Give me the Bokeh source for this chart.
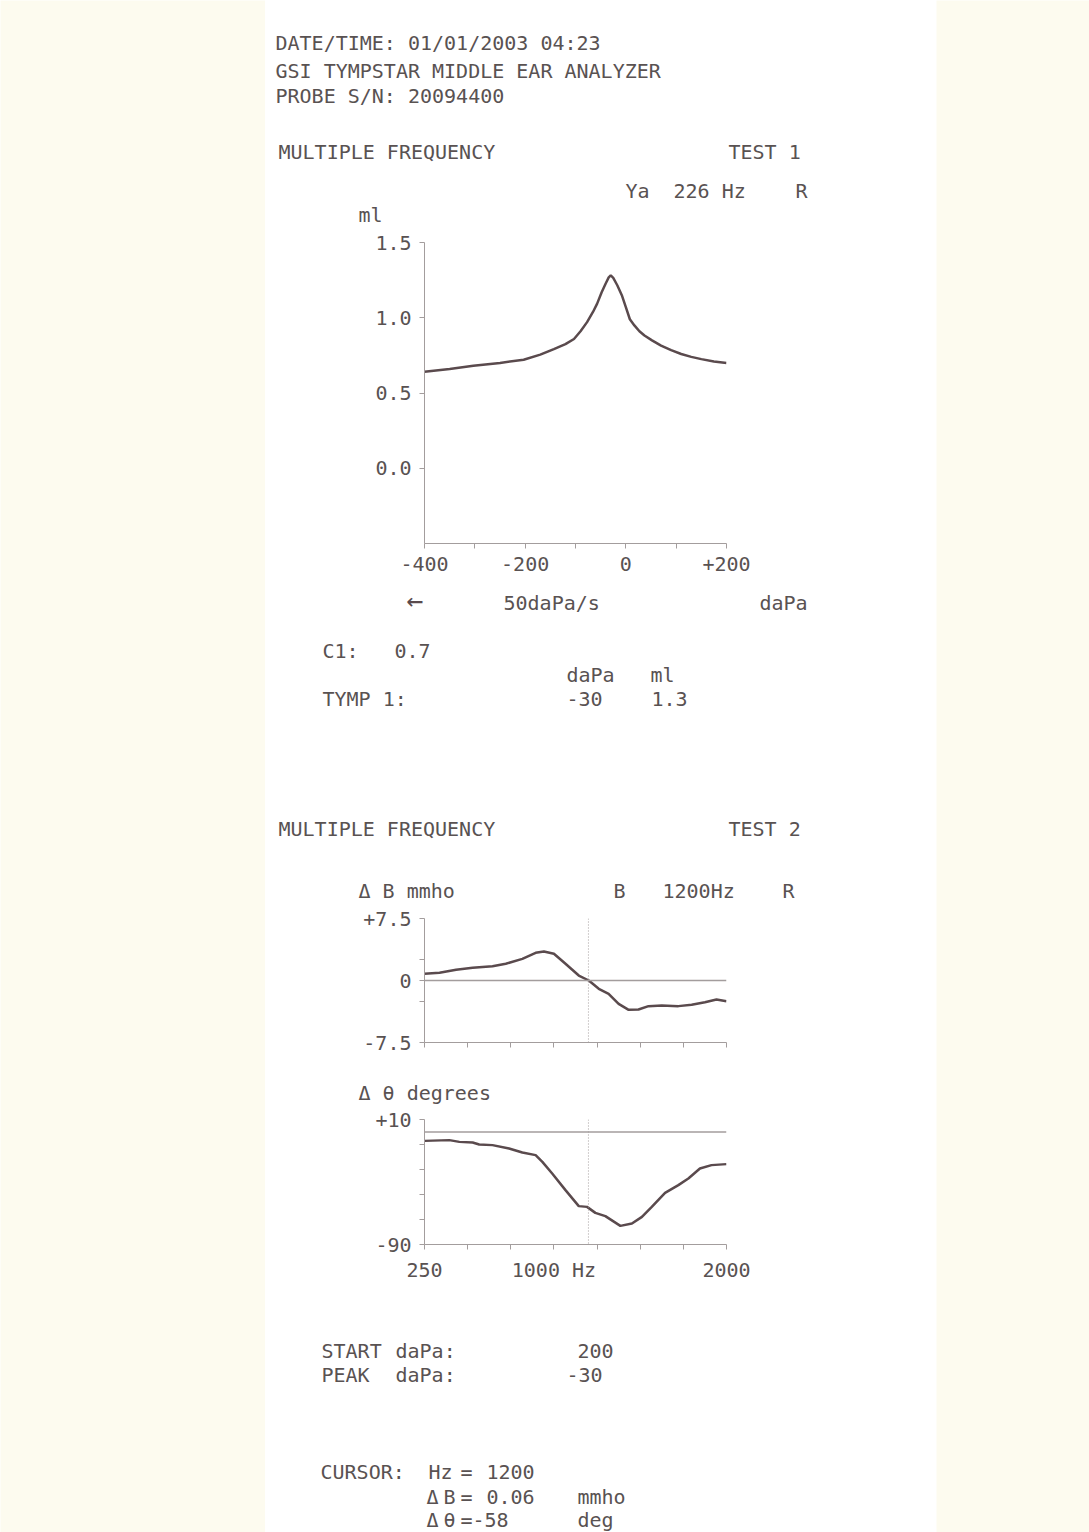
from bokeh.plotting import figure
from bokeh.layouts import row, column
from bokeh.models import Range1d, Span, FixedTicker
from bokeh.embed import file_html
from bokeh.resources import INLINE
from bokeh.core.properties import value

FONT = "DejaVu Sans Mono"
TXT = "#595252"
LINE = "#5a4a4d"
AX = "#a39d9d"
CREAM = "#fdfbef"

# ---------------- data ----------------
tymp_pressure = [-400, -350, -303, -250, -203, -170, -143, -120, -103, -90, -77, -65,
                 -57, -48, -40, -34, -30, -25, -17, -8, 0, 8, 17, 27, 37, 52, 70, 90,
                 110, 130, 150, 175, 200]
tymp_ml = [0.641, 0.660, 0.681, 0.700, 0.721, 0.755, 0.792, 0.825, 0.859, 0.910, 0.971,
           1.040, 1.094, 1.170, 1.228, 1.268, 1.281, 1.265, 1.216, 1.150, 1.071, 0.990,
           0.949, 0.910, 0.882, 0.850, 0.815, 0.785, 0.759, 0.740, 0.725, 0.710, 0.699]

freq_b = [250, 337, 433, 529, 644, 721, 817, 894, 942, 1000, 1067, 1144, 1202, 1260,
          1317, 1375, 1433, 1490, 1548, 1625, 1721, 1798, 1875, 1942, 2000]
delta_b = [0.81, 0.93, 1.29, 1.53, 1.73, 2.02, 2.62, 3.35, 3.51, 3.23, 2.02, 0.60, 0.0,
           -1.0, -1.61, -2.82, -3.55, -3.51, -3.10, -3.02, -3.10, -2.94, -2.62, -2.30, -2.50]

freq_t = [250, 394, 452, 529, 567, 644, 740, 817, 894, 933, 990, 1067, 1144, 1192, 1240,
          1298, 1385, 1452, 1510, 1567, 1644, 1721, 1779, 1846, 1913, 2000]
delta_theta = [-7.1, -6.5, -7.9, -8.4, -10.0, -10.5, -13.2, -16.4, -18.5, -23.9, -33.2,
               -46.5, -59.3, -59.9, -64.7, -67.3, -75.1, -73.2, -67.9, -59.9, -48.7,
               -42.5, -37.2, -29.2, -26.5, -25.7]

tymp_xticks = [-400, -300, -200, -100, 0, 100, 200]
tymp_xlabels = {-400: "-400", -300: "", -200: "-200", -100: "", 0: "0", 100: "", 200: "+200"}
tymp_yticks = [0.0, 0.5, 1.0, 1.5]
tymp_ylabels = {0.0: "0.0", 0.5: "0.5", 1.0: "1.0", 1.5: "1.5"}
freq_ticks = [250, 500, 750, 1000, 1250, 1500, 1750, 2000]
freq_labels = {250: "250", 500: "", 750: "", 1000: "1000 Hz", 1250: "", 1500: "", 1750: "", 2000: "2000"}
b_ticks = [-7.5, -2.5, 0, 2.5, 7.5]
b_labels = {-7.5: "-7.5", -2.5: "", 0: "0", 2.5: "", 7.5: "+7.5"}
t_ticks = [10, -10, -30, -50, -70, -90]
t_labels = {10: "+10", -10: "", -30: "", -50: "", -70: "", -90: "-90"}
cursor_hz = 1200

PAGEW = 1089
PAGEH = 1532
X0 = 265      # image x where the paper column starts
COLW = 671
RIGHTW = PAGEW - X0 - COLW


def textfig(height, top, items):
    p = figure(width=COLW, height=height, x_range=Range1d(0, COLW), y_range=Range1d(height, 0),
               x_axis_type=None, y_axis_type=None, output_backend="svg", toolbar_location=None,
               min_border=0)
    p.frame_align = False
    p.grid.visible = False
    p.outline_line_color = None
    p.background_fill_color = "white"
    p.border_fill_color = "white"
    xs = [it[0] - X0 for it in items]
    ys = [it[1] - top for it in items]
    ts = [it[2] for it in items]
    p.text(x=xs, y=ys, text=ts, text_font=value(FONT), text_font_size="20px",
           text_color=TXT, text_baseline="middle", text_align="left")
    return p


def chart(height, top, bottom, xr, yr):
    p = figure(width=COLW, height=height, x_range=Range1d(*xr), y_range=Range1d(*yr),
               output_backend="svg", toolbar_location=None,
               min_border_left=424 - X0, min_border_right=COLW - (424 - X0) - 302,
               min_border_top=top, min_border_bottom=bottom)
    p.frame_align = False
    p.grid.visible = False
    p.outline_line_color = None
    p.background_fill_color = "white"
    p.border_fill_color = "white"
    for ax in (p.xaxis[0], p.yaxis[0]):
        ax.axis_line_color = AX
        ax.major_tick_line_color = AX
        ax.minor_tick_line_color = None
        ax.major_tick_out = 5
        ax.major_tick_in = 0
        ax.major_label_text_font = FONT
        ax.major_label_text_font_size = "20px"
        ax.major_label_text_color = TXT
        ax.major_label_standoff = 8
    return p


# --- header text (image y 0..226)
t1_top, t1_h = 0, 226
t1 = textfig(t1_h, t1_top, [
    (275, 42, "DATE/TIME: 01/01/2003 04:23"),
    (275, 70, "GSI TYMPSTAR MIDDLE EAR ANALYZER"),
    (275, 95, "PROBE S/N: 20094400"),
    (278, 151, "MULTIPLE FREQUENCY"),
    (728, 151, "TEST 1"),
    (625, 190, "Ya"),
    (673, 190, "226 Hz"),
    (795, 190, "R"),
    (358, 214, "ml"),
])

# --- chart 1 (image y 226..582), frame 242..543
c1 = chart(356, 16, 356 - 16 - 301, (-400, 200), (-0.5, 1.5))
c1.xaxis[0].ticker = FixedTicker(ticks=tymp_xticks)
c1.xaxis[0].major_label_overrides = tymp_xlabels
c1.yaxis[0].ticker = FixedTicker(ticks=tymp_yticks)
c1.yaxis[0].major_label_overrides = tymp_ylabels
c1.line(tymp_pressure, tymp_ml, line_color=LINE, line_width=2.5)

# --- middle text (image y 582..904)
t2_top, t2_h = 582, 322
t2 = textfig(t2_h, t2_top, [
    (503, 602, "50daPa/s"),
    (759, 602, "daPa"),
    (322, 650, "C1:"),
    (394, 650, "0.7"),
    (566, 674, "daPa"),
    (650, 674, "ml"),
    (322, 698, "TYMP 1:"),
    (566, 698, "-30"),
    (651, 698, "1.3"),
    (278, 828, "MULTIPLE FREQUENCY"),
    (728, 828, "TEST 2"),
    (358, 890, "\u0394 B mmho"),
    (613, 890, "B"),
    (662, 890, "1200Hz"),
    (782, 890, "R"),
])
t2.text(x=[406 - X0], y=[600 - t2_top], text=["\u2190"], text_font=value(FONT),
        text_font_size="28px", text_color=LINE, text_baseline="middle", text_align="left")

# --- chart 2 (image y 904..1070), frame 918..1042
c2 = chart(166, 14, 166 - 14 - 124, (250, 2000), (-7.5, 7.5))
c2.xaxis[0].ticker = FixedTicker(ticks=freq_ticks)
c2.xaxis[0].major_label_overrides = {k: "" for k in freq_ticks}
c2.xaxis[0].major_label_text_font_size = "8px"
c2.xaxis[0].major_label_standoff = 0
c2.yaxis[0].ticker = FixedTicker(ticks=b_ticks)
c2.yaxis[0].major_label_overrides = b_labels
c2.add_layout(Span(location=0, dimension="width", line_color=AX, line_width=1.5))
c2.add_layout(Span(location=cursor_hz, dimension="height", line_color=AX, line_width=1, line_dash="1 2"))
c2.line(freq_b, delta_b, line_color=LINE, line_width=2.5)

# --- theta label (image y 1070..1106)
t3_top, t3_h = 1070, 36
t3 = textfig(t3_h, t3_top, [
    (358, 1092, "\u0394 \u03b8 degrees"),
])

# --- chart 3 (image y 1106..1290), frame 1119..1244
c3 = chart(184, 13, 184 - 13 - 125, (250, 2000), (-90, 10))
c3.xaxis[0].ticker = FixedTicker(ticks=freq_ticks)
c3.xaxis[0].major_label_overrides = freq_labels
c3.yaxis[0].ticker = FixedTicker(ticks=t_ticks)
c3.yaxis[0].major_label_overrides = t_labels
c3.add_layout(Span(location=0, dimension="width", line_color=AX, line_width=1.5))
c3.add_layout(Span(location=cursor_hz, dimension="height", line_color=AX, line_width=1, line_dash="1 2"))
c3.line(freq_t, delta_theta, line_color=LINE, line_width=2.5)

# --- footer (image y 1290..1532)
t4_top, t4_h = 1290, PAGEH - 1290
t4 = textfig(t4_h, t4_top, [
    (321, 1350, "START"),
    (395, 1350, "daPa:"),
    (577, 1350, "200"),
    (321, 1374, "PEAK"),
    (395, 1374, "daPa:"),
    (566, 1374, "-30"),
    (320, 1471, "CURSOR:"),
    (428, 1471, "Hz"),
    (460, 1471, "="),
    (486, 1471, "1200"),
    (426, 1496, "\u0394"),
    (443, 1496, "B"),
    (460, 1496, "="),
    (486, 1496, "0.06"),
    (577, 1496, "mmho"),
    (426, 1519, "\u0394"),
    (443, 1519, "\u03b8"),
    (460, 1519, "=-58"),
    (577, 1519, "deg"),
])


def side(width):
    p = figure(width=width, height=PAGEH, x_range=Range1d(0, 1), y_range=Range1d(0, 1),
               x_axis_type=None, y_axis_type=None, output_backend="svg",
               toolbar_location=None, min_border=0)
    p.frame_align = False
    p.grid.visible = False
    p.outline_line_color = None
    p.background_fill_color = CREAM
    p.border_fill_color = CREAM
    return p


left = side(X0)
right = side(RIGHTW)
mid = column(t1, c1, t2, c2, t3, c3, t4, spacing=0)
page = row(left, mid, right, spacing=0)

open("out.html", "w").write(file_html(page, INLINE))
